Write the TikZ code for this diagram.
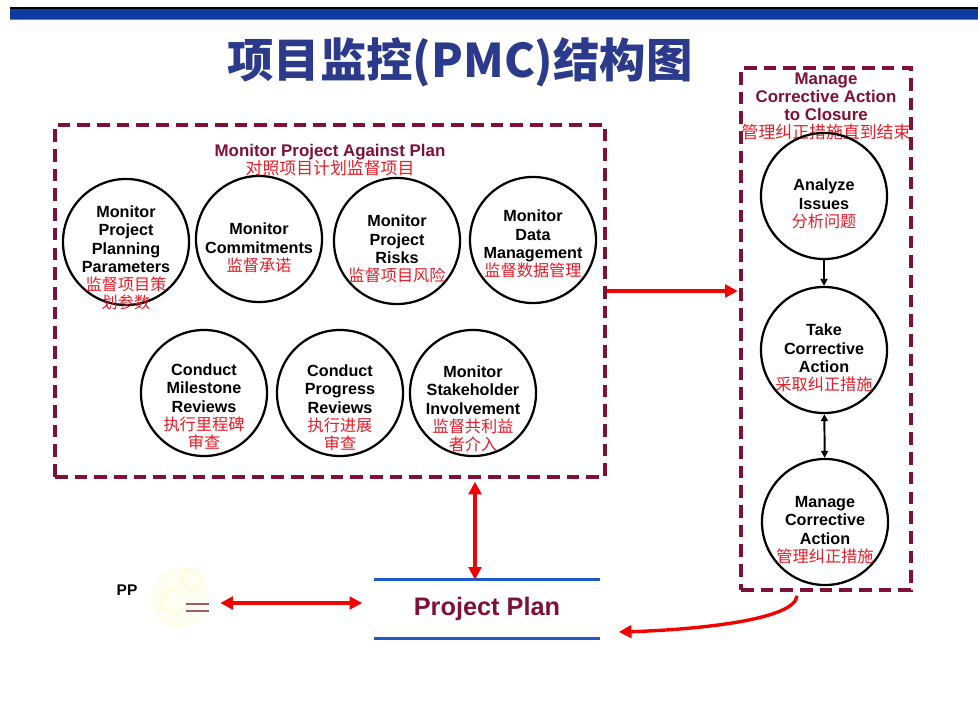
\documentclass[tikz,border=0pt]{standalone}
\usepackage{fontspec}
\setmainfont{Liberation Sans}
\newfontfamily\cjk{Noto Sans CJK SC}
\usetikzlibrary{arrows.meta,positioning,calc}

\definecolor{boxred}{RGB}{128,16,52}
\definecolor{cnred}{RGB}{232,28,40}
\definecolor{arrred}{RGB}{245,0,0}
\definecolor{titleblue}{RGB}{44,58,140}
\definecolor{barblue}{RGB}{12,58,158}
\definecolor{lineblue}{RGB}{30,90,200}
\newcommand{\cn}[1]{{\cjk\mdseries\color{cnred}#1}}

\begin{document}
\begin{tikzpicture}[
    x=0.025cm, y=-0.025cm,
    % node styles
    proc/.style       = {draw, circle, line width=1.6pt, minimum size=3.15cm,
                          inner sep=0pt},
    proctext/.style   = {align=center, inner sep=0pt,
                          font=\bfseries\fontsize{11.5}{13}\selectfont},
    group/.style      = {draw=boxred, line width=2.6pt,
                          dash pattern=on 9pt off 5pt, inner sep=0pt},
    grouptitle/.style = {align=center, text=boxred, inner sep=0pt,
                          font=\bfseries\fontsize{12}{12.8}\selectfont},
    plan/.style       = {minimum width=5.625cm, minimum height=1.45cm,
                          text=boxred, inner sep=0pt,
                          font=\bfseries\fontsize{18}{20}\selectfont},
    planline/.style   = {lineblue, line width=2pt},
    ppicon/.style     = {circle, minimum size=1.4cm, draw=yellow!25,
                          fill=yellow!5, inner sep=0pt},
    % edges
    redarrow/.style   = {arrred, line width=2.4pt,
                          -{Triangle[length=9pt,width=9pt]}},
    redboth/.style    = {redarrow,
                          {Triangle[length=9pt,width=9pt]}-{Triangle[length=9pt,width=9pt]}},
    flow/.style       = {line width=1.4pt, -{Triangle[length=5pt,width=5pt]}}
  ]
\useasboundingbox[fill=white] (0,0) rectangle (978,721);

% ============================================================
% Header bar and title
% ============================================================
\fill[barblue] (10,8) rectangle (978,19);
\draw[line width=0.8pt] (10,8) -- (978,8);
\draw[gray, line width=0.6pt] (10,19.5) -- (978,19.5);

\node[text=titleblue, inner sep=0pt, font=\cjk\bfseries\fontsize{33}{36}\selectfont]
  (title) at (460,62) {项目监控(PMC)结构图};

% ============================================================
% Monitor Project Against Plan (left group)
% ============================================================
\node[group, minimum width=13.75cm, minimum height=8.8cm] (mpap) at (330,301) {};
\node[grouptitle] (mpap-t) at (330,160)
  {Monitor Project Against Plan\\ \cn{对照项目计划监督项目}};

% first row
\node[proc] (mppp) at (126,242) {};
\node[proctext] (mppp-t) at ($(mppp)+(0,16)$)
  {Monitor\\Project\\Planning\\Parameters\\ \cn{监督项目策}\\ \cn{划参数}};
\node[proc] (mc) at (259,239) {};
\node[proctext] (mc-t) at ($(mc)+(0,9)$)
  {Monitor\\Commitments\\ \cn{监督承诺}};
\node[proc] (mpr) at (397,241) {};
\node[proctext] (mpr-t) at ($(mpr)+(0,8)$)
  {Monitor\\Project\\Risks\\ \cn{监督项目风险}};
\node[proc] (mdm) at (533,240) {};
\node[proctext] (mdm-t) at ($(mdm)+(0,4)$)
  {Monitor\\Data\\Management\\ \cn{监督数据管理}};

% second row
\node[proc] (cmr) at (204,393) {};
\node[proctext] (cmr-t) at ($(cmr)+(0,14)$)
  {Conduct\\Milestone\\Reviews\\ \cn{执行里程碑}\\ \cn{审查}};
\node[proc] (cpr) at (340,393) {};
\node[proctext] (cpr-t) at ($(cpr)+(0,15)$)
  {Conduct\\Progress\\Reviews\\ \cn{执行进展}\\ \cn{审查}};
\node[proc] (msi) at (473,393) {};
\node[proctext] (msi-t) at ($(msi)+(0,16)$)
  {Monitor\\Stakeholder\\Involvement\\ \cn{监督共利益}\\ \cn{者介入}};

% ============================================================
% Manage Corrective Action to Closure (right group)
% ============================================================
\node[group, minimum width=4.25cm, minimum height=13.05cm] (mcac) at (826,329) {};
\node[grouptitle] (mcac-t) at (826,106)
  {Manage\\Corrective Action\\to Closure\\ \cn{管理纠正措施直到结束}};

\node[proc] (ai) at (824,196) {};
\node[proctext] (ai-t) at ($(ai)+(0,8)$)
  {Analyze\\Issues\\ \cn{分析问题}};
\node[proc] (tca) at (824,350) {};
\node[proctext] (tca-t) at ($(tca)+(0,8)$)
  {Take\\Corrective\\Action\\ \cn{采取纠正措施}};
\node[proc] (mca) at (825,522) {};
\node[proctext] (mca-t) at ($(mca)+(0,8)$)
  {Manage\\Corrective\\Action\\ \cn{管理纠正措施}};

\draw[flow] (ai) -- (tca);
\draw[flow, {Triangle[length=5pt,width=5pt]}-{Triangle[length=5pt,width=5pt]}]
  (tca) -- (mca);

% ============================================================
% Project Plan and PP
% ============================================================
\node[plan] (plan) at (487,609) {Project Plan};
\draw[planline] (plan.north west) -- (plan.north east);
\draw[planline] (plan.south west) -- (plan.south east);

\node[inner sep=0pt, font=\bfseries\fontsize{11}{12}\selectfont] (pp) at (127,590) {PP};
\node[ppicon] (icon) at (180,597) {};
\draw[yellow!30, line width=0.6pt] ($(icon)+(12,-18)$) circle[radius=0.25cm];
\draw[yellow!25, line width=0.6pt] ($(icon)+(-6,4)$) circle[radius=0.3cm];
\draw[boxred!70, line width=1.3pt] ($(icon)+(6,7)$) -- +(23,0);
\draw[boxred!70, line width=1.3pt] ($(icon)+(6,14)$) -- +(23,0);

% ============================================================
% Red connectors
% ============================================================
\draw[redarrow, shorten >=1pt] ([yshift=0.25cm]mpap.east)
  -- ([yshift=0.25cm]mpap.east -| mcac.west);

\coordinate (plantop) at ([xshift=-0.3cm]plan.north);
\draw[redboth, shorten <=2pt] (plantop |- mpap.south) -- (plantop);

\coordinate (ppleft) at ([xshift=0.3cm,yshift=-0.15cm]icon.east);
\draw[redboth] (ppleft) -- ([xshift=-0.3cm]ppleft -| plan.west);

\draw[redarrow] ([xshift=-0.725cm,yshift=-0.1cm]mcac.south)
  .. controls +(-2,25) and +(70,-2) ..
  ([xshift=0.475cm,yshift=-0.575cm]plan.east);

\end{tikzpicture}
\end{document}
